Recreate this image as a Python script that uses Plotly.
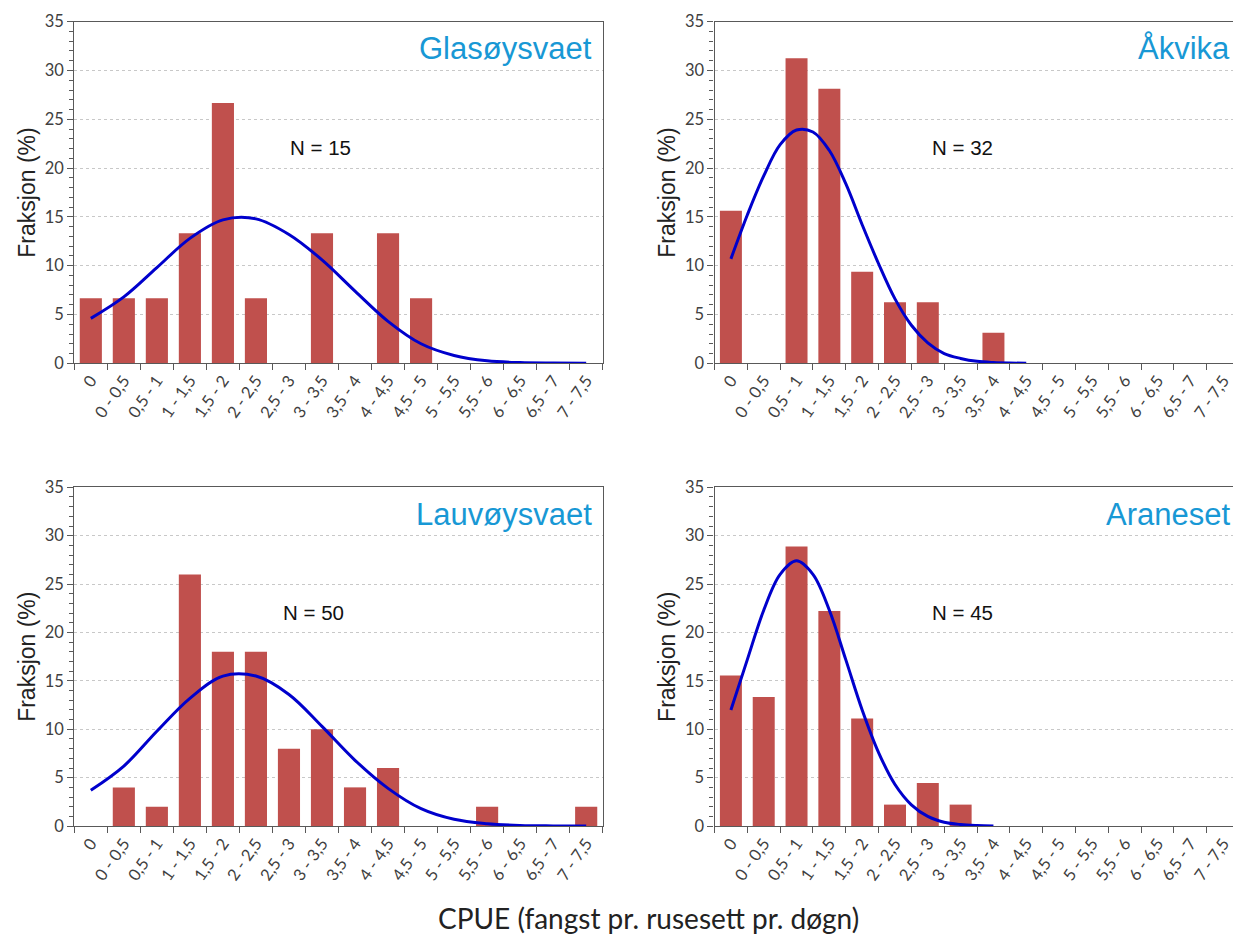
import plotly.graph_objects as go

W, H = 1233, 941

categories = ["0", "0 - 0,5", "0,5 - 1", "1 - 1,5", "1,5 - 2", "2 - 2,5", "2,5 - 3",
              "3 - 3,5", "3,5 - 4", "4 - 4,5", "4,5 - 5", "5 - 5,5", "5,5 - 6",
              "6 - 6,5", "6,5 - 7", "7 - 7,5"]

# Bars (Fraksjon %)
glasoy_bars = [6.67, 6.67, 6.67, 13.33, 26.67, 6.67, 0, 13.33, 0, 13.33, 6.67, 0, 0, 0, 0, 0]
akvika_bars = [15.63, 0, 31.25, 28.13, 9.38, 6.25, 6.25, 0, 3.13, 0, 0, 0, 0, 0, 0, 0]
lauvoy_bars = [0, 4, 2, 26, 18, 18, 8, 10, 4, 6, 0, 0, 2, 0, 0, 2]
araneset_bars = [15.56, 13.33, 28.89, 22.22, 11.11, 2.22, 4.44, 2.22, 0, 0, 0, 0, 0, 0, 0, 0]

# Fitted curves: positions (category index units) and values
glasoy_curve_x = [0, 1, 2, 3, 4, 5, 6, 7, 8, 9, 10, 11, 12, 13, 14, 15]
glasoy_curve_y = [4.6, 6.8, 9.8, 12.8, 14.7, 14.8, 13.2, 10.6, 7.4, 4.3, 2.0, 0.8, 0.25, 0.07, 0.02, 0.0]
akvika_curve_x = [0, 0.5, 1, 1.5, 2, 2.5, 3, 3.5, 4, 4.5, 5, 5.5, 6, 6.5, 7, 7.5, 8, 8.5, 9]
akvika_curve_y = [10.7, 15.2, 19.2, 22.4, 23.9, 23.7, 21.8, 18.4, 14.2, 10.2, 6.6, 3.9, 2.1,
                  1.0, 0.5, 0.2, 0.08, 0.03, 0.01]
lauvoy_curve_x = [0, 1, 2, 3, 4, 5, 6, 7, 8, 9, 10, 11, 12, 13, 14, 15]
lauvoy_curve_y = [3.7, 6.2, 9.8, 13.2, 15.5, 15.5, 13.6, 10.3, 6.8, 3.9, 1.8, 0.7, 0.25, 0.07, 0.02, 0.0]
araneset_curve_x = [0, 0.5, 1, 1.5, 2, 2.5, 3, 3.5, 4, 4.5, 5, 5.5, 6, 6.5, 7, 7.5, 8]
araneset_curve_y = [12.0, 17.2, 22.3, 26.0, 27.4, 26.0, 22.3, 17.2, 12.0, 7.6, 4.3, 2.2, 1.0,
                    0.4, 0.16, 0.06, 0.02]

panel_names = ["Glasøysvaet", "Åkvika", "Lauvøysvaet", "Araneset"]
panel_n = ["N = 15", "N = 32", "N = 50", "N = 45"]
bars_all = [glasoy_bars, akvika_bars, lauvoy_bars, araneset_bars]
curves_all = [(glasoy_curve_x, glasoy_curve_y), (akvika_curve_x, akvika_curve_y),
              (lauvoy_curve_x, lauvoy_curve_y), (araneset_curve_x, araneset_curve_y)]

# Layout geometry (pixels)
col_x = [(74.3, 602.7), (714.5, 1233.0)]
row_y = [(21.7, 363.3), (487.3, 826.1)]
x_ranges = [[-0.5, 15.5], [-0.5, 15.3]]

BAR = "#C0504D"
CURVE = "#0000CC"
TITLE_BLUE = "#1898D5"
AXIS = "#595959"
TICKFONT = dict(family="Lato, 'Open Sans', sans-serif", size=16.5, color="#404040")
ARIAL = "Liberation Sans, Arial, sans-serif"

fig = go.Figure()
layout = dict(width=W, height=H, margin=dict(l=0, r=0, t=0, b=0, autoexpand=False),
              paper_bgcolor="white", plot_bgcolor="white", showlegend=False,
              bargap=0.33, annotations=[])

for i in range(4):
    r, c = divmod(i, 2)
    xa = "x" if i == 0 else f"x{i+1}"
    ya = "y" if i == 0 else f"y{i+1}"
    xk = "xaxis" if i == 0 else f"xaxis{i+1}"
    yk = "yaxis" if i == 0 else f"yaxis{i+1}"
    ok = f"xaxis{i+5}"
    oa = f"x{i+5}"

    fig.add_trace(go.Bar(x=categories, y=bars_all[i], marker=dict(color=BAR, line=dict(width=0)),
                         xaxis=xa, yaxis=ya))
    cx, cy = curves_all[i]
    fig.add_trace(go.Scatter(x=cx, y=cy, mode="lines",
                             line=dict(color=CURVE, width=3, shape="spline", smoothing=1.0),
                             xaxis=oa, yaxis=ya))

    x0, x1 = col_x[c]
    y0, y1 = row_y[r]
    dom = [x0 / W, x1 / W]
    layout[xk] = dict(domain=dom, anchor=ya, type="category",
                      categoryorder="array", categoryarray=categories,
                      range=x_ranges[c], tickson="boundaries", ticks="outside",
                      ticklen=6, tickcolor=AXIS, tickangle=-55, tickfont=TICKFONT,
                      showline=True, linecolor=AXIS, linewidth=1.3, mirror=True,
                      showgrid=False, zeroline=False, fixedrange=True, automargin=False)
    layout[ok] = dict(domain=dom, anchor=ya, overlaying=xa, range=x_ranges[c],
                      visible=False, showgrid=False, zeroline=False, fixedrange=True)
    layout[yk] = dict(domain=[1 - y1 / H, 1 - y0 / H], anchor=xa, range=[0, 35],
                      dtick=5, tick0=0, ticks="outside", ticklen=6, tickcolor=AXIS,
                      tickfont=TICKFONT, showline=True, linecolor=AXIS, linewidth=1.3,
                      mirror=True, showgrid=True, gridcolor="#C8C8C8", griddash="dot",
                      gridwidth=1, zeroline=False, automargin=False, fixedrange=True,
                      minor=dict(dtick=1, ticks="outside", ticklen=4, tickcolor=AXIS,
                                 showgrid=False),
                      title=dict(text="Fraksjon (%)", standoff=2,
                                 font=dict(family=ARIAL, size=23, color="#222222")))

    # panel title
    tx = (x1 - 9) / W if c == 0 else 1232 / W
    ty = 1 - ((y0 + 27) / H)
    layout["annotations"].append(dict(text=panel_names[i], xref="paper", yref="paper",
                                      x=tx, y=ty, xanchor="right", yanchor="middle",
                                      showarrow=False,
                                      font=dict(family=ARIAL, size=31, color=TITLE_BLUE)))
    # N label
    nx = [320, 962, 313, 962][i]
    ny = [147, 147, 612, 612][i]
    layout["annotations"].append(dict(text=panel_n[i], xref="paper", yref="paper",
                                      x=nx / W, y=1 - ny / H, xanchor="center",
                                      yanchor="middle", showarrow=False,
                                      font=dict(family=ARIAL, size=20.5, color="#111111")))

layout["annotations"].append(dict(text="CPUE (fangst pr. rusesett pr. døgn)", xref="paper",
                                  yref="paper", x=648 / W, y=1 - 918 / H, xanchor="center",
                                  yanchor="middle", showarrow=False,
                                  font=dict(family="Lato, 'Open Sans', sans-serif", size=28,
                                            color="#222222")))

fig.update_layout(**layout)
fig.write_html("out.html", config={"displayModeBar": False},
               post_script="document.body.style.margin='0';document.body.style.overflow='hidden';")
